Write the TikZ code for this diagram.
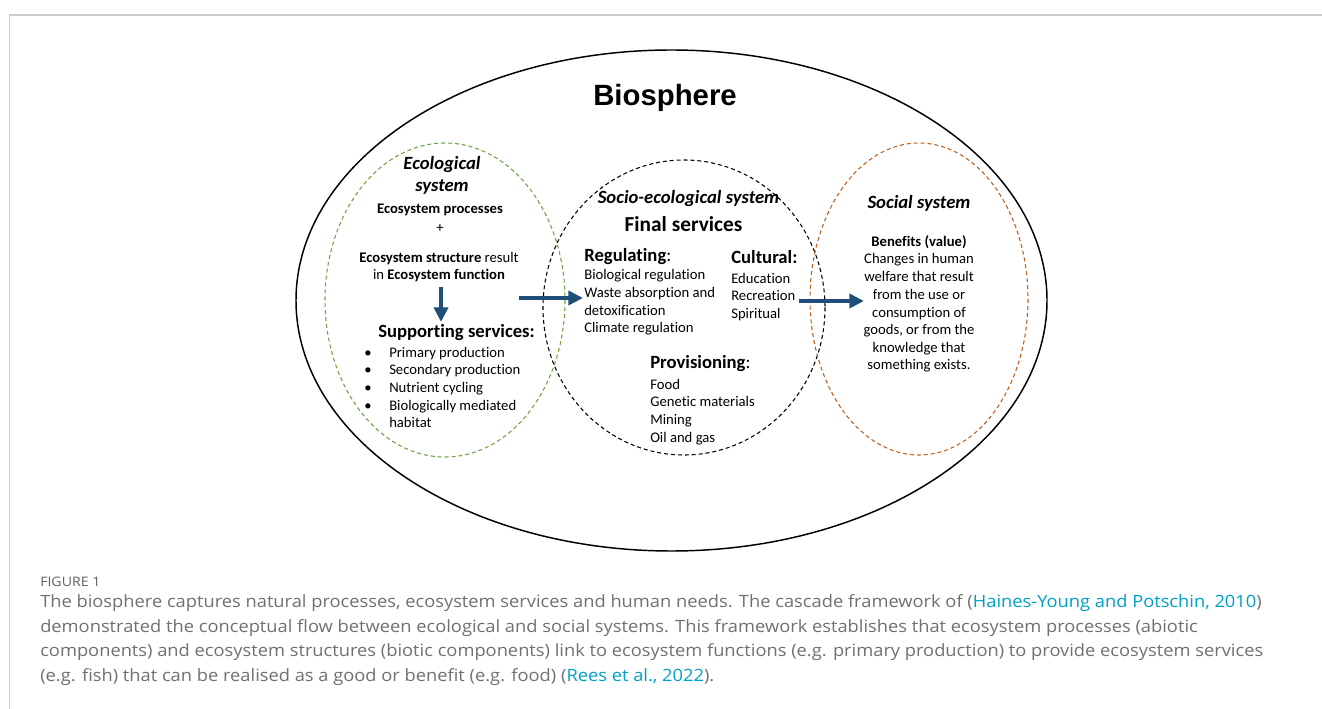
\documentclass[tikz,border=0pt]{standalone}
\usepackage{fontspec}
\setmainfont{Carlito}[Ligatures=NoCommon]
\newfontfamily\biofont{Liberation Sans}
\newfontfamily\capfont[FakeStretch=1.08]{Open Sans}
\usetikzlibrary{arrows.meta}

\definecolor{navy}{RGB}{31,78,121}
\definecolor{ecogreen}{RGB}{112,163,71}
\definecolor{socbrown}{RGB}{190,95,30}
\definecolor{capgray}{RGB}{112,112,112}
\definecolor{linkcyan}{RGB}{0,160,198}
\definecolor{framegray}{RGB}{204,204,204}

\tikzset{
  body/.style={inner sep=0pt, font=\fontsize{11pt}{13.25pt}\selectfont},
  head/.style={inner sep=0pt, font=\bfseries\fontsize{14pt}{17pt}\selectfont},
  headit/.style={inner sep=0pt, font=\bfseries\itshape\fontsize{14pt}{17.2pt}\selectfont},
  flow/.style={line width=3.4pt, navy, -{Triangle[length=11pt,width=10.5pt]}},
  sysline/.style={line width=0.8pt, dash pattern=on 3pt off 2.2pt}
}

\begin{document}
\begin{tikzpicture}[x=0.75pt,y=-0.75pt]
\useasboundingbox (0,0) rectangle (1322,709);
% frame of the figure
\draw[framegray, line width=1.2pt] (9.5,709) -- (9.5,15) -- (1322,15);

% biosphere and the three systems
\draw[line width=1.1pt] (671.5,300.5) ellipse [x radius=375.5, y radius=250.5];
\draw[sysline, ecogreen] (445,300) ellipse [x radius=120, y radius=157];
\draw[sysline, black] (684,307.5) ellipse [x radius=141, y radius=147.5];
\draw[sysline, socbrown] (919,299) ellipse [x radius=109, y radius=156];

\node[inner sep=0pt, anchor=base, font=\biofont\bfseries\fontsize{22pt}{26pt}\selectfont] (bio) at (665,106) {Biosphere};

% ecological system (base = last line)
\node[headit, anchor=base, align=center] (ecosys) at (442,192) {Ecological\\system};
\node[body, anchor=base] (proc) at (440,214) {\textbf{Ecosystem processes}};
\node[body, anchor=base] (plus) at (440,233) {+};
\node[body, anchor=base, align=center] (struct) at (439,280) {\textbf{Ecosystem structure} result\\in \textbf{Ecosystem function}};
\node[head, anchor=base west] (supp) at (378,338) {Supporting services:};
\node[body, anchor=base west, align=left] (supplist) at (364,427.8)
  {\makebox[18.75pt][l]{•}Primary production\\
   \makebox[18.75pt][l]{•}Secondary production\\
   \makebox[18.75pt][l]{•}Nutrient cycling\\
   \makebox[18.75pt][l]{•}Biologically mediated\\
   \makebox[18.75pt][l]{}habitat};

% socio-ecological system
\node[headit, anchor=base] (sesys) at (688.5,204) {Socio-ecological system};
\node[inner sep=0pt, anchor=base, font=\bfseries\fontsize{16pt}{19pt}\selectfont] (final) at (683.5,232) {Final services};
\node[head, anchor=base west] (reg) at (584,262) {Regulating\mdseries:};
\node[body, anchor=base west, align=left] (reglist) at (584,333)
  {Biological regulation\\Waste absorption and\\detoxification\\Climate regulation};
\node[head, anchor=base west] (cult) at (731,264) {Cultural:};
\node[body, anchor=base west, align=left] (cultlist) at (731,318.4)
  {Education\\Recreation\\Spiritual};
\node[head, anchor=base west] (prov) at (650,369) {Provisioning\mdseries:};
\node[body, anchor=base west, align=left] (provlist) at (650,442)
  {Food\\Genetic materials\\Mining\\Oil and gas};

% social system
\node[headit, anchor=base] (socsys) at (919,209) {Social system};
\node[body, anchor=base, align=center] (benef) at (919,370)
  {\textbf{Benefits (value)}\\Changes in human\\welfare that result\\from the use or\\consumption of\\goods, or from the\\knowledge that\\something exists.};

% flows
\coordinate (downtop) at (441,287);
\coordinate (downtip) at (441,322);
\coordinate (ecoout) at (519,298);
\coordinate (regin) at (583,298);
\coordinate (cultout) at (799,301);
\coordinate (socin) at (864,301);
\draw[flow] (downtop) -- (downtip);
\draw[flow] (ecoout) -- (regin);
\draw[flow] (cultout) -- (socin);

% caption
\node[inner sep=0pt, anchor=base west, text=capgray!85!black, font=\capfont\fontsize{9.8pt}{11pt}\selectfont] (fignum) at (40,586) {FIGURE 1};
\node[inner sep=0pt, anchor=base west, align=left, text=capgray, font=\capfont\fontsize{12.7pt}{18.4pt}\selectfont] (caption) at (40,681.5)
  {The biosphere captures natural processes, ecosystem services and human needs. The cascade framework of (\textcolor{linkcyan}{Haines-Young and Potschin, 2010})\\
   demonstrated the conceptual flow between ecological and social systems. This framework establishes that ecosystem processes (abiotic\\
   components) and ecosystem structures (biotic components) link to ecosystem functions (e.g. primary production) to provide ecosystem services\\
   (e.g. fish) that can be realised as a good or benefit (e.g. food) (\textcolor{linkcyan}{Rees et al., 2022}).};
\end{tikzpicture}
\end{document}
